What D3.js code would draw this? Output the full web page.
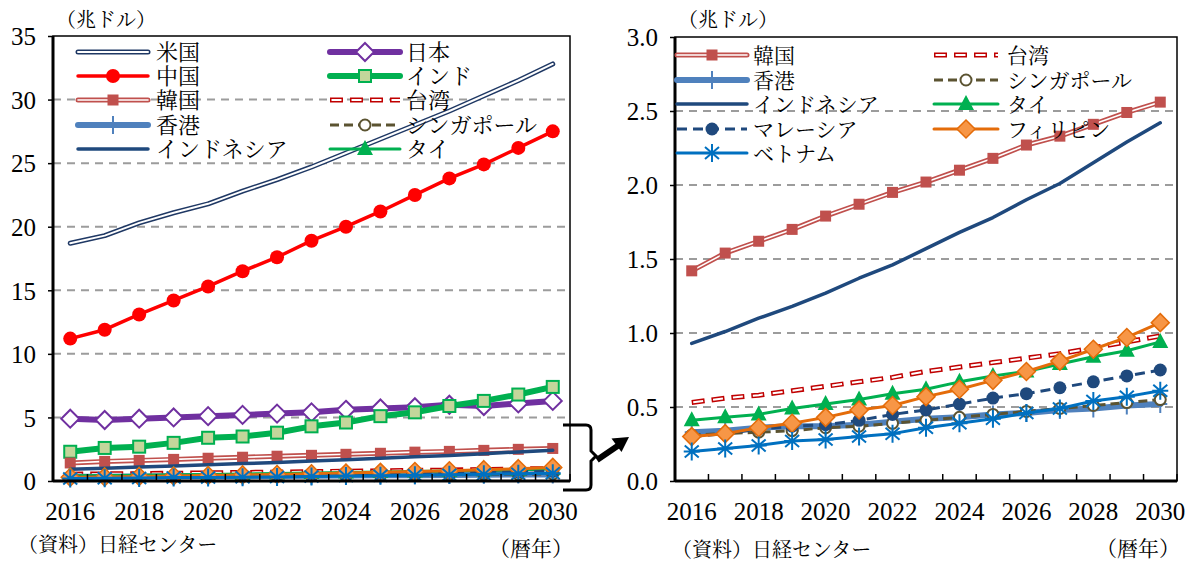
<!DOCTYPE html>
<html>
<head>
<meta charset="utf-8">
<script src="https://cdnjs.cloudflare.com/ajax/libs/d3/7.8.5/d3.min.js"></script>
<style>
body { margin:0; background:#fff; }
svg text { font-family:"Liberation Serif","Noto Serif CJK JP","Noto Sans CJK JP",serif; fill:#000; }
</style>
</head>
<body>
<svg id="chart" width="1187" height="561"></svg>
<script>
// 名目GDP見通し (兆ドル)
var years = [2016,2017,2018,2019,2020,2021,2022,2023,2024,2025,2026,2027,2028,2029,2030];
var yearLabels = [2016,2018,2020,2022,2024,2026,2028,2030];

var usa       = [18.7,19.3,20.3,21.1,21.8,22.8,23.7,24.7,25.8,26.9,28.0,29.1,30.3,31.5,32.8];
var china     = [11.2,11.9,13.1,14.2,15.3,16.5,17.6,18.9,20.0,21.2,22.5,23.8,24.9,26.2,27.5];
var japan     = [4.9,4.8,4.9,5.0,5.1,5.2,5.3,5.4,5.6,5.7,5.8,6.0,5.9,6.1,6.3];
var india     = [2.3,2.6,2.7,3.0,3.4,3.5,3.8,4.3,4.6,5.1,5.4,5.9,6.3,6.8,7.4];
var korea     = [1.42,1.54,1.62,1.70,1.79,1.87,1.95,2.02,2.10,2.18,2.27,2.33,2.41,2.49,2.56];
var taiwan    = [0.53,0.56,0.58,0.61,0.64,0.67,0.70,0.74,0.77,0.80,0.83,0.86,0.90,0.94,0.98];
var hongkong  = [0.33,0.34,0.36,0.37,0.37,0.38,0.40,0.42,0.43,0.45,0.46,0.48,0.49,0.51,0.52];
var singapore = [0.31,0.32,0.33,0.34,0.36,0.37,0.39,0.41,0.43,0.45,0.47,0.49,0.51,0.53,0.55];
var indonesia = [0.93,1.01,1.10,1.18,1.27,1.37,1.46,1.57,1.68,1.78,1.90,2.01,2.15,2.29,2.42];
var thailand  = [0.41,0.43,0.45,0.49,0.52,0.55,0.59,0.62,0.67,0.71,0.74,0.79,0.84,0.88,0.94];
var malaysia  = [0.30,0.32,0.35,0.37,0.38,0.41,0.45,0.48,0.52,0.56,0.59,0.63,0.67,0.71,0.75];
var philippines = [0.30,0.32,0.36,0.39,0.43,0.48,0.51,0.57,0.62,0.68,0.74,0.81,0.89,0.97,1.07];
var vietnam   = [0.20,0.22,0.24,0.27,0.28,0.30,0.32,0.36,0.39,0.42,0.46,0.49,0.54,0.57,0.61];

var leftTicks  = [0,5,10,15,20,25,30,35];
var rightTicks = [0,0.5,1.0,1.5,2.0,2.5,3.0];

// 系列ごとの見た目
var S = {
  "米国":        {data:usa, color:"#1F3864", w:5, inner:2},
  "日本":        {data:japan, color:"#7030A0", w:6, marker:"diamond", mfill:"#fff", mstroke:"#7030A0"},
  "中国":        {data:china, color:"#FF0000", w:3.5, marker:"circle", mfill:"#FF0000"},
  "インド":      {data:india, color:"#00B050", w:6, marker:"square", mfill:"#C3D69B", mstroke:"#00B050"},
  "韓国":        {data:korea, color:"#C0504D", w:5, inner:1.6, marker:"ksquare", mfill:"#C0504D"},
  "台湾":        {data:taiwan, color:"#C00000", w:5, inner:2, dash:"13,7", idash:"10,10", ioff:-1.5},
  "香港":        {data:hongkong, color:"#4F81BD", w:6, marker:"plus", mstroke:"#4F81BD"},
  "シンガポール": {data:singapore, color:"#5B5331", w:3, dash:"9,5", marker:"ocircle", mfill:"#fff", mstroke:"#5B5331"},
  "インドネシア": {data:indonesia, color:"#1F497D", w:3.5},
  "タイ":        {data:thailand, color:"#00B050", w:3, marker:"triangle", mfill:"#00B050"},
  "マレーシア":  {data:malaysia, color:"#1F497D", w:3, dash:"10,6", marker:"dot", mfill:"#1F497D"},
  "フィリピン":  {data:philippines, color:"#E46C0A", w:3, marker:"pdiamond", mfill:"#F79646", mstroke:"#E46C0A"},
  "ベトナム":    {data:vietnam, color:"#0070C0", w:3, marker:"star", mstroke:"#0070C0"}
};

var leftSeries = ["米国","中国","日本","インド","韓国","台湾","香港","シンガポール","インドネシア","タイ","マレーシア","フィリピン","ベトナム"];
var rightSeries = ["韓国","台湾","香港","シンガポール","インドネシア","タイ","マレーシア","フィリピン","ベトナム"];
var leftLegend = [["米国","日本"],["中国","インド"],["韓国","台湾"],["香港","シンガポール"],["インドネシア","タイ"]];
var rightLegend = [["韓国","台湾"],["香港","シンガポール"],["インドネシア","タイ"],["マレーシア","フィリピン"],["ベトナム",null]];

var svg = d3.select("#chart");

function drawMarker(g, s) {
  var m = s.marker;
  if (!m) return;
  if (m == "circle") g.append("circle").attr("r", 7).attr("fill", s.mfill);
  else if (m == "dot") g.append("circle").attr("r", 6.5).attr("fill", s.mfill);
  else if (m == "ocircle") g.append("circle").attr("r", 5.5).attr("fill", "#fff").attr("stroke", s.mstroke).attr("stroke-width", 2);
  else if (m == "diamond") g.append("path").attr("d", "M0,-9L9,0L0,9L-9,0Z").attr("fill", "#fff").attr("stroke", s.mstroke).attr("stroke-width", 2);
  else if (m == "pdiamond") g.append("path").attr("d", "M0,-9L9,0L0,9L-9,0Z").attr("fill", s.mfill).attr("stroke", s.mstroke).attr("stroke-width", 1.5);
  else if (m == "square") g.append("rect").attr("x", -6).attr("y", -6).attr("width", 12).attr("height", 12).attr("fill", s.mfill).attr("stroke", s.mstroke).attr("stroke-width", 2);
  else if (m == "ksquare") g.append("rect").attr("x", -5.5).attr("y", -5.5).attr("width", 11).attr("height", 11).attr("fill", s.mfill);
  else if (m == "triangle") g.append("path").attr("d", "M0,-9L8,6L-8,6Z").attr("fill", s.mfill);
  else if (m == "plus") g.append("path").attr("d", "M0,-9V9M-7,0H7").attr("stroke", s.mstroke).attr("stroke-width", 2);
  else if (m == "star") g.append("path").attr("d", "M0,-9V9M-7,-6L7,6M-7,6L7,-6M-8,0H8").attr("stroke", s.mstroke).attr("stroke-width", 2);
}

function strokeLine(g, d, s) {
  var p = g.append("path").attr("d", d).attr("fill", "none")
    .attr("stroke", s.color).attr("stroke-width", s.w)
    .attr("stroke-linejoin", "round").attr("stroke-linecap", s.dash ? "butt" : "round");
  if (s.dash) p.attr("stroke-dasharray", s.dash);
  if (s.inner) {
    var q = g.append("path").attr("d", d).attr("fill", "none")
      .attr("stroke", "#fff").attr("stroke-width", s.inner)
      .attr("stroke-linejoin", "round").attr("stroke-linecap", s.idash ? "butt" : "round");
    if (s.idash) q.attr("stroke-dasharray", s.idash).attr("stroke-dashoffset", s.ioff);
  }
}

function drawPanel(cfg) {
  var x = d3.scalePoint().domain(years).range([cfg.x0, cfg.x1]).padding(0.5);
  var y = d3.scaleLinear().domain([0, cfg.max]).range([cfg.bottom, cfg.top]);
  var step = x.step();
  var g = svg.append("g");

  // 補助線
  g.selectAll(".grid").data(cfg.ticks.filter(function(t){ return t > 0 && t < cfg.max; }))
    .enter().append("line")
    .attr("x1", cfg.x0).attr("x2", cfg.x1)
    .attr("y1", function(d){ return y(d); }).attr("y2", function(d){ return y(d); })
    .attr("stroke", "#9C9C9C").attr("stroke-width", 2).attr("stroke-dasharray", "8,6");

  // 系列
  cfg.series.forEach(function(name) {
    var s = S[name];
    var pts = years.map(function(yr, i){ return [x(yr), y(s.data[i])]; });
    var sg = g.append("g");
    strokeLine(sg, d3.line()(pts), s);
    if (s.marker) {
      pts.forEach(function(p) {
        drawMarker(sg.append("g").attr("transform", "translate(" + p[0] + "," + p[1] + ")"), s);
      });
    }
  });

  // 枠
  g.append("rect").attr("x", cfg.x0).attr("y", cfg.top)
    .attr("width", cfg.x1 - cfg.x0).attr("height", cfg.bottom - cfg.top)
    .attr("fill", "none").attr("stroke", "#000").attr("stroke-width", 1.5);
  g.append("line").attr("x1", cfg.x0).attr("x2", cfg.x0).attr("y1", cfg.top).attr("y2", cfg.bottom + 1)
    .attr("stroke", "#000").attr("stroke-width", 3);
  g.append("line").attr("x1", cfg.x0).attr("x2", cfg.x1).attr("y1", cfg.bottom).attr("y2", cfg.bottom)
    .attr("stroke", "#000").attr("stroke-width", 3);

  // y 軸
  var ya = d3.axisLeft(y).tickValues(cfg.ticks).tickFormat(cfg.fmt).tickSize(5).tickPadding(12);
  var yg = g.append("g").attr("transform", "translate(" + cfg.x0 + ",0)").call(ya);
  yg.select(".domain").remove();
  yg.selectAll(".tick line").attr("stroke", "#000").attr("stroke-width", 1.5);
  yg.selectAll("text").style("font-size", "25px").attr("dy", "0.35em");

  // x 軸 目盛り (区切り)
  var bounds = years.map(function(yr){ return x(yr) - step / 2; }).concat([x(years[years.length - 1]) + step / 2]);
  g.selectAll(".xt").data(bounds).enter().append("line")
    .attr("x1", function(d){ return d; }).attr("x2", function(d){ return d; })
    .attr("y1", cfg.bottom).attr("y2", cfg.bottom - 7)
    .attr("stroke", "#000").attr("stroke-width", 1.5);
  g.selectAll(".xl").data(yearLabels).enter().append("text")
    .attr("x", function(d){ return x(d); }).attr("y", 520)
    .attr("text-anchor", "middle").style("font-size", "25px")
    .text(function(d){ return d; });

  // 単位・出所
  g.append("text").attr("x", cfg.x0 + 3).attr("y", 27).style("font-size", "20px").text("（兆ドル）");
  g.append("text").attr("x", cfg.srcX).attr("y", cfg.srcY).style("font-size", "20px").text("（資料）日経センター");
  g.append("text").attr("x", cfg.x1 + 3).attr("y", 556).attr("text-anchor", "end").style("font-size", "21px").text("（暦年）");

  // 凡例
  cfg.legend.forEach(function(row, r) {
    row.forEach(function(name, c) {
      if (!name) return;
      var s = S[name];
      var lx0 = cfg.legX[c][0], lx1 = cfg.legX[c][1], ly = cfg.legY[r];
      var lg = g.append("g");
      strokeLine(lg, d3.line()([[lx0, ly], [lx1, ly]]), s);
      if (s.marker) drawMarker(lg.append("g").attr("transform", "translate(" + ((lx0 + lx1) / 2) + "," + ly + ")"), s);
      lg.append("text").attr("x", cfg.legX[c][2]).attr("y", ly).attr("dy", "0.36em")
        .style("font-size", cfg.legFont + "px").text(name);
    });
  });
}

drawPanel({
  x0: 53, x1: 570, top: 36, bottom: 481, max: 35, ticks: leftTicks,
  fmt: d3.format("d"), series: leftSeries, legend: leftLegend, legFont: 22,
  legX: [[78, 148, 156], [330, 400, 406]], legY: [52, 76, 100, 125, 149],
  srcX: 18, srcY: 552
});
drawPanel({
  x0: 675, x1: 1177, top: 37, bottom: 481, max: 3, ticks: rightTicks,
  fmt: d3.format(".1f"), series: rightSeries, legend: rightLegend, legFont: 21,
  legX: [[677, 747, 753], [934, 998, 1007]], legY: [55, 80, 104, 129, 153],
  srcX: 672, srcY: 557
});

// 拡大を示す括弧と矢印
svg.append("path")
  .attr("d", "M563,425 H586 Q591,425 591,430 V451 L596,456 L591,461 V485 Q591,490 586,490 H563")
  .attr("fill", "none").attr("stroke", "#000").attr("stroke-width", 3);
svg.append("line").attr("x1", 597).attr("y1", 460).attr("x2", 619).attr("y2", 445)
  .attr("stroke", "#000").attr("stroke-width", 6);
svg.append("path").attr("d", "M629,437 L621.5,452 L611.5,438.5 Z").attr("fill", "#000");
</script>
</body>
</html>
